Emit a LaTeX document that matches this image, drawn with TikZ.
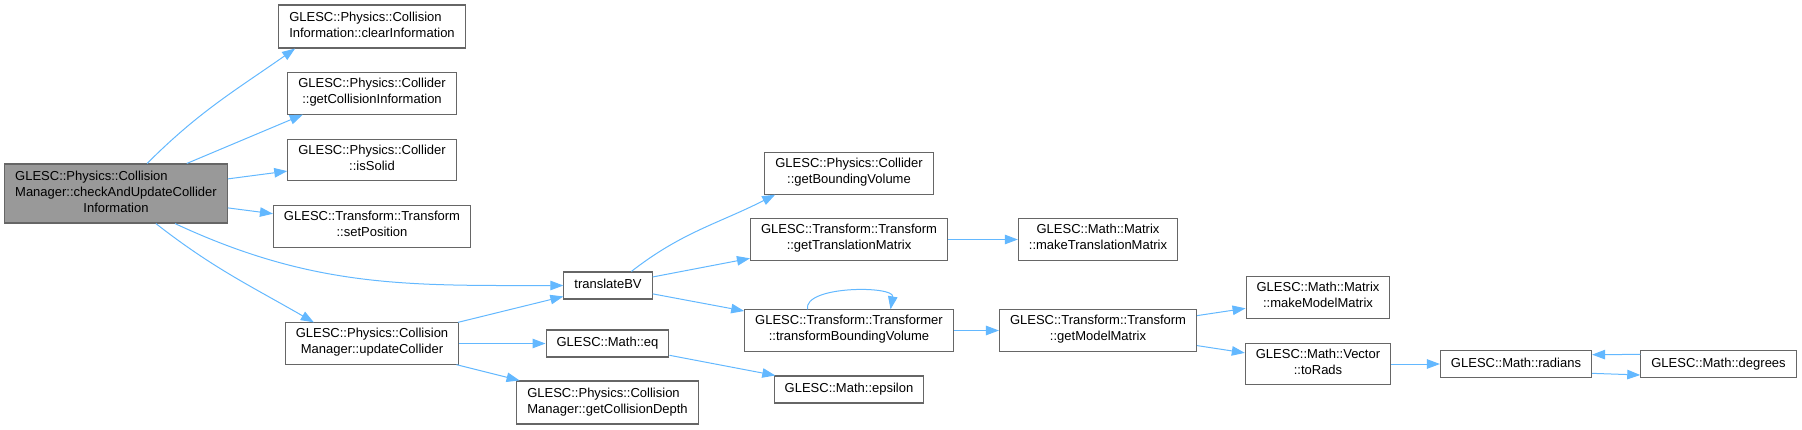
\documentclass[tikz,border=0pt]{standalone}
\usepackage{fontspec}
\setmainfont{Liberation Sans}
\usepackage{tikz}
\usetikzlibrary{arrows.meta}
\definecolor{callblue}{HTML}{63B8FF}
\definecolor{boxgray}{HTML}{666666}
\definecolor{mainfill}{HTML}{999999}
\newcommand{\TwoLeft}[2]{\begin{tabular}{@{}l@{}}#1\\#2\end{tabular}}

\begin{document}
\begin{tikzpicture}[
  x=1pt, y=1pt,
  box/.style={draw=boxgray, line width=1.1pt, fill=white, align=center, inner xsep=10.5pt, inner ysep=5.5pt,
    font=\fontsize{13}{16}\selectfont, execute at begin node=\strut, execute at end node=\strut},
  call/.style={draw=callblue, line width=1pt, -{Triangle[length=13pt, width=9.5pt]}}
]
  \useasboundingbox (0,0) rectangle (1802,-429);
  \node[box, fill=mainfill] (main) at (116,-193.5) {\begin{tabular}{@{}l@{}}GLESC::Physics::Collision\\Manager::checkAndUpdateCollider\\\multicolumn{1}{@{}c@{}}{Information}\end{tabular}};
  \node[box] (clear) at (372,-26.5) {\TwoLeft{GLESC::Physics::Collision}{Information::clearInformation}};
  \node[box] (getinfo) at (372,-93.5) {GLESC::Physics::Collider\\::getCollisionInformation};
  \node[box] (solid) at (372,-160) {GLESC::Physics::Collider\\::isSolid};
  \node[box] (setpos) at (372,-226.5) {GLESC::Transform::Transform\\::setPosition};
  \node[box] (update) at (372,-343.5) {GLESC::Physics::Collision\\Manager::updateCollider};
  \node[box] (translate) at (608,-285.5) {translateBV};
  \node[box] (eq) at (607.5,-343.5) {GLESC::Math::eq};
  \node[box] (depth) at (607.5,-402.5) {\TwoLeft{GLESC::Physics::Collision}{Manager::getCollisionDepth}};
  \node[box] (bvol) at (849,-173.5) {GLESC::Physics::Collider\\::getBoundingVolume};
  \node[box] (transmat) at (849,-239.5) {GLESC::Transform::Transform\\::getTranslationMatrix};
  \node[box] (transform) at (849,-330.5) {GLESC::Transform::Transformer\\::transformBoundingVolume};
  \node[box] (epsilon) at (849,-389.5) {GLESC::Math::epsilon};
  \node[box] (maketrans) at (1098,-239.5) {GLESC::Math::Matrix\\::makeTranslationMatrix};
  \node[box] (modelmat) at (1098,-330.5) {GLESC::Transform::Transform\\::getModelMatrix};
  \node[box] (makemodel) at (1318,-297.5) {GLESC::Math::Matrix\\::makeModelMatrix};
  \node[box] (torads) at (1318,-364) {GLESC::Math::Vector\\::toRads};
  \node[box] (radians) at (1516,-364) {GLESC::Math::radians};
  \node[box] (degrees) at (1718.5,-364) {GLESC::Math::degrees};
  \draw[call] (main.44) to[out=45, in=215] (clear.196);
  \draw[call] (main.23) -- (getinfo.197);
  \draw[call] (main) -- (solid);
  \draw[call] (main) -- (setpos);
  \draw[call] (main.333) to[out=-25, in=180] (translate.west);
  \draw[call] (main.323) to[out=-38, in=150] (update.160);
  \draw[call] (update) -- (translate);
  \draw[call] (update) -- (eq);
  \draw[call] (update) -- (depth);
  \draw[call] (translate.31) to[out=38, in=207] (bvol.196);
  \draw[call] (translate) -- (transmat);
  \draw[call] (translate) -- (transform);
  \draw[call] (transmat) -- (maketrans);
  \draw[call] (transform.153) to[out=100, in=80, looseness=0.75] (transform.27);
  \draw[call] (transform) -- (modelmat);
  \draw[call] (eq) -- (epsilon);
  \draw[call] (modelmat) -- (makemodel);
  \draw[call] (modelmat) -- (torads);
  \draw[call] (torads) -- (radians);
  \draw[call] (radians.353) -- (degrees.188);
  \draw[call] (degrees.173) -- (radians.7);
\end{tikzpicture}
\end{document}
